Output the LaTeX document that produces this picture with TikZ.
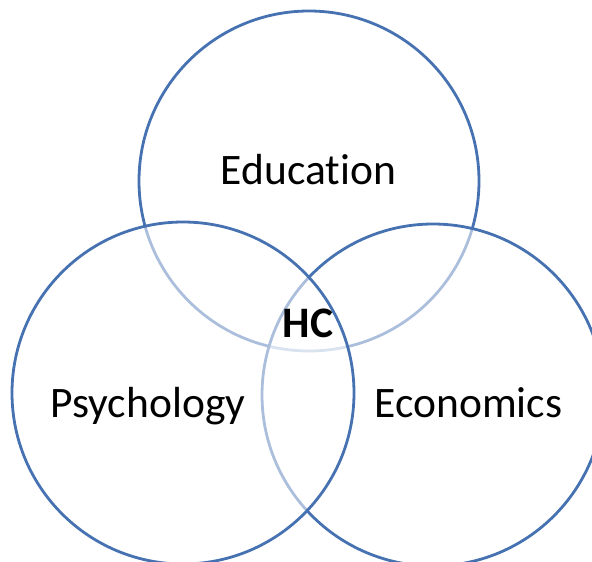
\documentclass[tikz,border=0pt]{standalone}
\usepackage{fontspec}
\setmainfont{Carlito}[Ligatures=NoCommon]
\definecolor{ringblue}{RGB}{70,114,178}
\begin{document}
\begin{tikzpicture}[x=1pt,y=-1pt,
  ring/.style={draw=ringblue,line width=2.8pt},
  veil/.style={ring,fill=white,fill opacity=0.55},
  label/.style={font=\fontsize{43.5}{52}\selectfont,anchor=base,inner sep=0pt}]
  \useasboundingbox (0,0) rectangle (592,562);
  % three sets; later rings veil the outlines beneath them
  \draw[ring] (309,181) circle[radius=170];
  \draw[veil] (433,395) circle[radius=171];
  \draw[veil] (183,393) circle[radius=171];
  \node[label] (edu) at (308.5,184) {Education};
  \node[label] (psy) at (148,417) {Psychology};
  \node[label] (eco) at (468.5,417) {Economics};
  \node[label,font=\fontsize{43.5}{52}\selectfont\bfseries] (hc) at (308,337) {HC};
\end{tikzpicture}
\end{document}
